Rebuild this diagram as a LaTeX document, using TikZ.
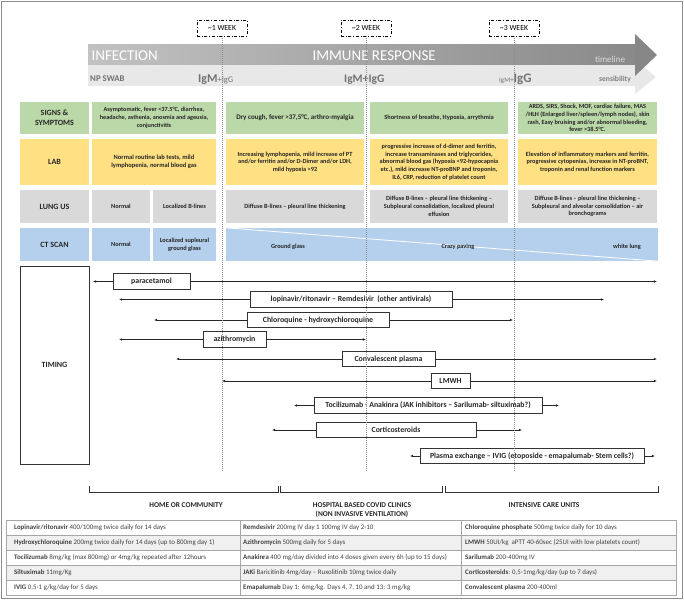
\documentclass[tikz,border=0pt]{standalone}
\usepackage{fontspec}
\setmainfont{Carlito}
\usetikzlibrary{arrows.meta}
\definecolor{cgreen}{RGB}{186,216,168}
\definecolor{cyellow}{RGB}{255,224,130}
\definecolor{cgray}{RGB}{217,217,217}
\definecolor{cblue}{RGB}{180,208,236}
\definecolor{tgray}{RGB}{64,64,64}
\newcommand\myfs[2]{\fontsize{#1}{#2}\selectfont}
\begin{document}
\begin{tikzpicture}[x=1pt,y=-1pt,
  cell/.style={rectangle, inner sep=0pt, align=center, text=black!85, font=\myfs{6.3}{7.7}\bfseries},
  lbl/.style={cell, font=\myfs{8}{9.5}\bfseries},
  drug/.style={rectangle, draw=black!80, fill=white, line width=0.6pt, inner sep=0pt, minimum height=15.5pt, text=black!85, font=\myfs{7.8}{9}\bfseries},
  arr/.style={line width=0.6pt, black!85, -{Latex[length=3.2pt,width=2.6pt]}},
  week/.style={draw, dash dot, line width=0.5pt, minimum width=50pt, minimum height=16pt, inner sep=0pt, font=\myfs{7.8}{9}},
  vdot/.style={black!45, dash pattern=on 0.8pt off 1.2pt, line width=0.5pt},
  brk/.style={line width=0.6pt, black!80},
  plc/.style={font=\myfs{7.4}{9.6}\bfseries, text=black!85, align=center},
  tcell/.style={anchor=west, inner sep=0pt, text=tgray, font=\myfs{6.9}{8}}
]
\useasboundingbox (0,0) rectangle (684,601);
\draw[black!45, line width=1.2pt] (1.5,1.5) rectangle (682.5,598.5);

% header arrows
\fill[black!9] (88,65) -- (635,65) -- (635,60) -- (656,77) -- (635,94) -- (635,86) -- (88,86) -- cycle;
\shade[left color=black!24, right color=black!46] (88,45) rectangle (635,65);
\fill[black!47] (635,34) -- (657,55) -- (635,76) -- cycle;
\node[anchor=west, text=white, font=\myfs{15}{16}] (inf) at (88,55.5) {INFECTION};
\node[anchor=west, text=white, font=\myfs{15}{16}] (imm) at (309,55.5) {IMMUNE RESPONSE};
\node[text=black!15, font=\myfs{9}{10}] (tl) at (610,59) {timeline};
\node[text=black!50, font=\myfs{7.6}{9}\bfseries] (sens) at (615,79) {sensibility};
\node[anchor=west, text=black!55, font=\myfs{8.8}{10}\bfseries, inner sep=0pt] (np) at (90,79) {NP SWAB};
\node[anchor=base west, text=black!55, inner sep=0pt] (ig1) at (198,83) {{\myfs{12}{13}\bfseries IgM}{\myfs{8.5}{9}+IgG}};
\node[anchor=base west, text=black!55, inner sep=0pt] (ig2) at (344,83) {\myfs{11.5}{13}\bfseries IgM+IgG};
\node[anchor=base west, text=black!55, inner sep=0pt] (ig3) at (499,83) {{\myfs{7}{8}IgM+}{\myfs{13}{14}\bfseries IgG}};

% week boxes
\node[week] (w1) at (222,28) {\textasciitilde 1 WEEK};
\node[week] (w2) at (366,28) {\textasciitilde 2 WEEK};
\node[week] (w3) at (514,28) {\textasciitilde 3 WEEK};

% signs row
\node[lbl, fill=cgreen, minimum width=69pt, minimum height=32pt] (sl) at (54.5,118) {SIGNS \&\\SYMPTOMS};
\node[cell, fill=cgreen, minimum width=124pt, minimum height=32pt, font=\myfs{6.2}{7.7}\bfseries] (s1) at (154,118) {Asymptomatic, fever <37.5°C, diarrhea,\\headache, asthenia, anosmia and ageusia,\\conjunctivitis};
\node[cell, fill=cgreen, minimum width=138pt, minimum height=32pt, font=\myfs{7}{8}\bfseries] (s2) at (295,118) {Dry cough, fever >37,5°C, arthro-myalgia};
\node[cell, fill=cgreen, minimum width=138pt, minimum height=32pt, font=\myfs{6.4}{8}\bfseries] (s3) at (439,118) {Shortness of breathe, Hypoxia, arrythmia};
\node[cell, fill=cgreen, minimum width=139pt, minimum height=32pt, font=\myfs{6.3}{7.7}\bfseries] (s4) at (587.5,118) {ARDS, SIRS, Shock, MOF, cardiac failure, MAS\\/HLH (Enlarged liver/spleen/lymph nodes), skin\\rash, Easy bruising and/or abnormal bleeding,\\fever >38.5°C.};

% lab row
\node[lbl, fill=cyellow, minimum width=69pt, minimum height=46pt] (ll) at (54.5,162) {LAB};
\node[cell, fill=cyellow, minimum width=124pt, minimum height=46pt, font=\myfs{6.5}{8}\bfseries] (l1) at (154,162) {Normal routine lab tests, mild\\lymphopenia, normal blood gas};
\node[cell, fill=cyellow, minimum width=138pt, minimum height=46pt] (l2) at (295,162) {Increasing lymphopenia, mild increase of PT\\and/or ferritin and/or D-Dimer and/or LDH,\\mild hypoxia >92};
\node[cell, fill=cyellow, minimum width=138pt, minimum height=46pt] (l3) at (439,162) {progressive increase of d-dimer and ferritin,\\increase transaminases and triglycerides,\\abnormal blood gas (hypoxia <92-hypocapnia\\etc.), mild increase NT-proBNP and troponin,\\IL6, CRP, reduction of platelet count};
\node[cell, fill=cyellow, minimum width=139pt, minimum height=46pt] (l4) at (587.5,162) {Elevation of inflammatory markers and ferritin,\\progressive cytopenias, increase in NT-proBNT,\\troponin and renal function markers};

% lung US row
\node[lbl, fill=cgray, minimum width=69pt, minimum height=33pt] (ul) at (54.5,206.5) {LUNG US};
\node[cell, fill=cgray, minimum width=58pt, minimum height=33pt] (u1a) at (121,206.5) {Normal};
\node[cell, fill=cgray, minimum width=63pt, minimum height=33pt] (u1b) at (184.5,206.5) {Localized B-lines};
\node[cell, fill=cgray, minimum width=138pt, minimum height=33pt] (u2) at (295,206.5) {Diffuse B-lines -- pleural line thickening};
\node[cell, fill=cgray, minimum width=138pt, minimum height=33pt] (u3) at (439,206.5) {Diffuse B-lines -- pleural line thickening --\\Subpleural consolidation, localized pleural\\effusion};
\node[cell, fill=cgray, minimum width=139pt, minimum height=33pt] (u4) at (587.5,206.5) {Diffuse B-lines -- pleural line thickening --\\Subpleural and alveolar consolidation -- air\\bronchograms};

% CT row
\node[lbl, fill=cblue, minimum width=69pt, minimum height=33pt] (cl) at (54.5,244.5) {CT SCAN};
\node[cell, fill=cblue, minimum width=58pt, minimum height=33pt] (c1a) at (121,244.5) {Normal};
\node[cell, fill=cblue, minimum width=63pt, minimum height=33pt] (c1b) at (184.5,244.5) {Localized supleural\\ground glass};
\node[cell, fill=cblue, minimum width=432pt, minimum height=33pt] (cband) at (442,244.5) {};
\draw[white, line width=0.8pt] (cband.north west) -- (cband.south east);
\node[cell] (ct1) at (288,247) {Ground glass};
\node[cell] (ct2) at (458,247) {Crazy paving};
\node[cell] (ct3) at (627,247) {white lung};

% timing
\node[lbl, draw=black!80, line width=0.6pt, minimum width=69pt, minimum height=198pt] (tim) at (54.5,365) {TIMING};

\node[drug, minimum width=77pt] (d1) at (151.5,281.5) {paracetamol};
\coordinate (d1l) at (93,281.5); \coordinate (d1r) at (657,281.5);
\node[drug, minimum width=202pt] (d2) at (351,299.5) {lopinavir/ritonavir -- Remdesivir\ \ (other antivirals)};
\coordinate (d2l) at (119,299.5); \coordinate (d2r) at (604,299.5);
\node[drug, minimum width=142pt] (d3) at (318,320) {Chloroquine - hydroxychloroquine};
\coordinate (d3l) at (154,320); \coordinate (d3r) at (513,320);
\node[drug, minimum width=63pt] (d4) at (234.5,339.5) {azithromycin};
\coordinate (d4l) at (119,339.5); \coordinate (d4r) at (366,339.5);
\node[drug, minimum width=93pt] (d5) at (388.5,359) {Convalescent plasma};
\coordinate (d5l) at (176,359); \coordinate (d5r) at (657,359);
\node[drug, minimum width=39pt] (d6) at (450.5,381) {LMWH};
\coordinate (d6l) at (222,381); \coordinate (d6r) at (657,381);
\node[drug, minimum width=228pt] (d7) at (428,405.5) {Tocilizumab - Anakinra (JAK inhibitors -- Sarilumab- siltuximab?)};
\coordinate (d7l) at (294,405.5); \coordinate (d7r) at (559,405.5);
\node[drug, minimum width=160pt] (d8) at (396,430) {Corticosteroids};
\coordinate (d8l) at (272,430); \coordinate (d8r) at (522,430);
\node[drug, minimum width=224pt] (d9) at (532,456) {Plasma exchange -- IVIG (etoposide - emapalumab- Stem cells?)};
\coordinate (d9l) at (410,456); \coordinate (d9r) at (655,456);
\foreach \i in {1,...,9}{
  \draw[arr] (d\i.west) -- (d\i l);
  \draw[arr] (d\i.east) -- (d\i r);
}

% vertical dotted lines
\coordinate (w1e) at (222,472); \coordinate (w2e) at (366,472); \coordinate (w3e) at (514,472);
\draw[vdot] (w1.south) -- (w1e);
\draw[vdot] (w2.south) -- (w2e);
\draw[vdot] (w3.south) -- (w3e);

% brackets
\coordinate (b1a) at (89,486); \coordinate (b1b) at (278,486);
\coordinate (b2a) at (280,486); \coordinate (b2b) at (442,486);
\coordinate (b3a) at (445,486); \coordinate (b3b) at (658,486);
\draw[brk] (b1a) -- ++(0,6) -| (b1b);
\draw[brk] (b2a) -- ++(0,6) -| (b2b);
\draw[brk] (b3a) -- ++(0,6) -| (b3b);
\node[plc] (p1) at (186,505) {HOME OR COMMUNITY};
\node[plc] (p2) at (362,510) {HOSPITAL BASED COVID CLINICS\\(NON INVASIVE VENTILATION)};
\node[plc] (p3) at (544,505) {INTENSIVE CARE UNITS};

% table
\fill[black!6] (6,535) rectangle (676,550);
\fill[black!6] (6,565) rectangle (676,580);
\draw[black!35, line width=0.5pt] (6,520) rectangle (676,595);
\foreach \yy in {535,550,565,580} \draw[black!35, line width=0.5pt] (6,\yy) -- (676,\yy);
\draw[black!35, line width=0.5pt] (240,520) -- (240,595);
\draw[black!35, line width=0.5pt] (461,520) -- (461,595);

\node[tcell] (t11) at (14,527.5) {\textbf{Lopinavir/ritonavir} 400/100mg twice daily for 14 days};
\node[tcell] (t12) at (243,527.5) {\textbf{Remdesivir} 200mg IV day 1 100mg IV day 2-10};
\node[tcell] (t13) at (465,527.5) {\textbf{Chloroquine phosphate} 500mg twice daily for 10 days};
\node[tcell] (t21) at (14,542.5) {\textbf{Hydroxychloroquine} 200mg twice daily for 14 days (up to 800mg day 1)};
\node[tcell] (t22) at (243,542.5) {\textbf{Azithromycin} 500mg daily for 5 days};
\node[tcell] (t23) at (465,542.5) {\textbf{LMWH} 50UI/kg\ \ aPTT 40-60sec (25UI with low platelets count)};
\node[tcell] (t31) at (14,557.5) {\textbf{Tocilizumab} 8mg/kg (max 800mg) or 4mg/kg repeated after 12hours};
\node[tcell] (t32) at (243,557.5) {\textbf{Anakinra} 400 mg/day divided into 4 doses given every 6h (up to 15 days)};
\node[tcell] (t33) at (465,557.5) {\textbf{Sarilumab} 200-400mg IV};
\node[tcell] (t41) at (14,572.5) {\textbf{Siltuximab} 11mg/Kg};
\node[tcell] (t42) at (243,572.5) {\textbf{JAKi} Baricitinib 4mg/day -- Ruxolitinib 10mg twice daily};
\node[tcell] (t43) at (465,572.5) {\textbf{Corticosteroids}: 0,5-1mg/kg/day (up to 7 days)};
\node[tcell] (t51) at (14,587.5) {\textbf{IVIG} 0,5-1 g/kg/day for 5 days};
\node[tcell] (t52) at (243,587.5) {\textbf{Emapalumab} Day 1: 6mg/kg. Days 4, 7, 10 and 13: 3 mg/kg};
\node[tcell] (t53) at (465,587.5) {\textbf{Convalescent plasma} 200-400ml};
\end{tikzpicture}
\end{document}
